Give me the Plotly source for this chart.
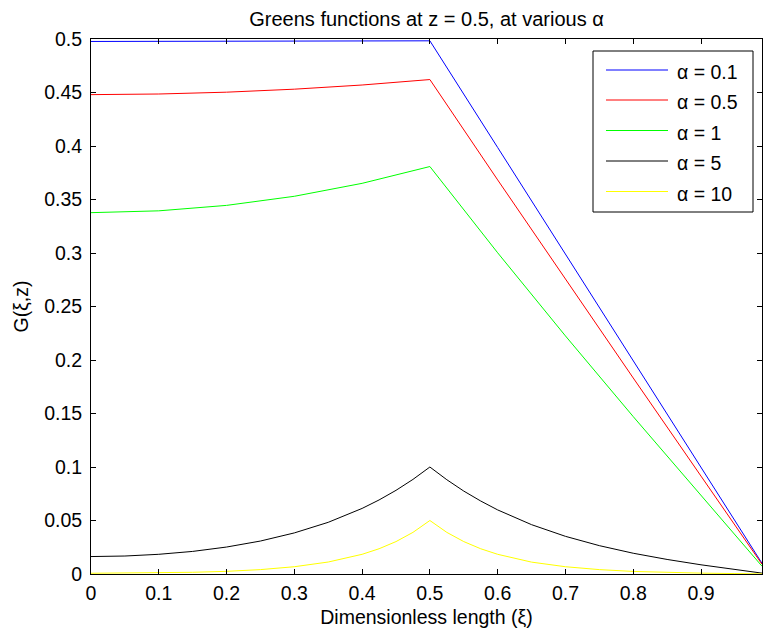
import plotly.graph_objects as go

# ---- data ----
alpha_labels = ["α = 0.1", "α = 0.5", "α = 1", "α = 5", "α = 10"]
line_colors = ["#0000ff", "#ff0000", "#00ff00", "#000000", "#ffff00"]

xi_a01 = [0, 0.1, 0.2, 0.3, 0.4, 0.5, 0.6, 0.7, 0.8, 0.9, 0.99]
g_a01 = [0.4977, 0.4977, 0.4978, 0.4979, 0.4981, 0.4983, 0.3986, 0.2989, 0.1993, 0.0996, 0.0100]

xi_a05 = [0, 0.1, 0.2, 0.3, 0.4, 0.5, 0.6, 0.7, 0.8, 0.9, 0.99]
g_a05 = [0.4480, 0.4486, 0.4503, 0.4531, 0.4570, 0.4621, 0.3683, 0.2754, 0.1832, 0.0915, 0.0091]

xi_a1 = [0, 0.1, 0.2, 0.3, 0.4, 0.5, 0.6, 0.7, 0.8, 0.9, 0.99]
g_a1 = [0.3377, 0.3394, 0.3445, 0.3530, 0.3651, 0.3808, 0.3002, 0.2225, 0.1471, 0.0732, 0.0073]

xi_a5 = [0, 0.05, 0.1, 0.15, 0.2, 0.25, 0.3, 0.35, 0.4, 0.425, 0.45, 0.475, 0.5,
         0.525, 0.55, 0.575, 0.6, 0.65, 0.7, 0.75, 0.8, 0.85, 0.9, 0.95, 0.99]
g_a5 = [0.0163, 0.0168, 0.0184, 0.0211, 0.0252, 0.0308, 0.0384, 0.0483, 0.0613, 0.0692, 0.0782, 0.0884, 0.1000,
        0.0881, 0.0775, 0.0682, 0.0599, 0.0461, 0.0352, 0.0265, 0.0194, 0.0136, 0.0086, 0.0042, 0.0008]

xi_a10 = [0, 0.05, 0.1, 0.15, 0.2, 0.25, 0.3, 0.35, 0.4, 0.425, 0.45, 0.475, 0.5,
          0.525, 0.55, 0.575, 0.6, 0.65, 0.7, 0.75, 0.8, 0.85, 0.9, 0.95, 0.99]
g_a10 = [0.0007, 0.0008, 0.0010, 0.0016, 0.0025, 0.0041, 0.0068, 0.0112, 0.0184, 0.0236, 0.0303, 0.0389, 0.0500,
         0.0389, 0.0303, 0.0236, 0.0184, 0.0111, 0.0068, 0.0041, 0.0024, 0.0014, 0.0008, 0.0004, 0.0001]

x_ticks = [0, 0.1, 0.2, 0.3, 0.4, 0.5, 0.6, 0.7, 0.8, 0.9]
y_ticks = [0, 0.05, 0.1, 0.15, 0.2, 0.25, 0.3, 0.35, 0.4, 0.45, 0.5]

series_x = [xi_a01, xi_a05, xi_a1, xi_a5, xi_a10]
series_y = [g_a01, g_a05, g_a1, g_a5, g_a10]

FONT = "Liberation Sans"
FS = 19.5
W, H = 763, 635
L, R, T, B = 91, 1, 39, 61
PW, PH = W - L - R, H - T - B

fig = go.Figure()
for xs, ys, name, col in zip(series_x, series_y, alpha_labels, line_colors):
    fig.add_trace(go.Scatter(x=xs, y=ys, mode="lines", name=name,
                             line=dict(color=col, width=1), showlegend=False))

# manual MATLAB-style legend
def px_x(p):
    return (p - L) / PW

def px_y(p):
    return (H - B - p) / PH

shapes = [dict(type="rect", xref="paper", yref="paper",
               x0=px_x(593), x1=px_x(753), y0=px_y(212), y1=px_y(51),
               line=dict(color="black", width=1), fillcolor="white", layer="above")]
annotations = []
entry_y = [70, 100, 130.5, 161, 191.5]
for ey, name, col in zip(entry_y, alpha_labels, line_colors):
    shapes.append(dict(type="line", xref="paper", yref="paper",
                       x0=px_x(606), x1=px_x(668), y0=px_y(ey), y1=px_y(ey),
                       line=dict(color=col, width=1), layer="above"))
    annotations.append(dict(xref="paper", yref="paper", x=px_x(675), y=px_y(ey + 2),
                            xanchor="left", yanchor="middle", showarrow=False,
                            text=name, font=dict(family=FONT, size=FS, color="black")))

axis_common = dict(showline=True, linecolor="black", linewidth=1, mirror="ticks",
                   ticks="inside", ticklen=5, tickcolor="black", tickwidth=1,
                   showgrid=False, zeroline=False,
                   tickfont=dict(family=FONT, size=FS, color="black"))

fig.update_layout(
    width=W, height=H,
    margin=dict(l=L, r=R, t=T, b=B, autoexpand=False),
    paper_bgcolor="white", plot_bgcolor="white",
    title=dict(text="Greens functions at z = 0.5, at various α",
               x=(L + PW / 2) / W, xanchor="center",
               y=1 - 19 / H, yanchor="middle",
               font=dict(family=FONT, size=20, color="black")),
    xaxis=dict(range=[0, 0.99], tickvals=x_ticks, ticklabelstandoff=2,
               title=dict(text="Dimensionless length (ξ)", standoff=6,
                          font=dict(family=FONT, size=FS, color="black")),
               **axis_common),
    yaxis=dict(range=[0, 0.5], tickvals=y_ticks, ticklabelstandoff=4,
               title=dict(text="G(ξ,z)", standoff=10,
                          font=dict(family=FONT, size=FS, color="black")),
               **axis_common),
    shapes=shapes,
    annotations=annotations,
    showlegend=False,
)

fig.write_html("out.html", config={"displayModeBar": False},
               post_script="document.body.style.margin='0';")
